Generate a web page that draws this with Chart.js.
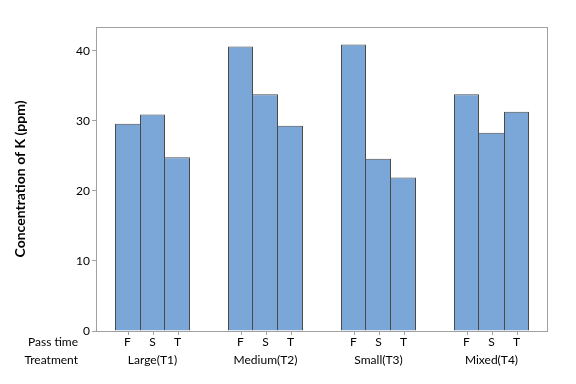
<!DOCTYPE html>
<html>
<head>
<meta charset="utf-8">
<script src="https://cdn.jsdelivr.net/npm/chart.js@4"></script>
<style>
  html, body { margin: 0; padding: 0; background: #fff; }
  #wrap { width: 576px; height: 384px; }
</style>
</head>
<body>
<div id="wrap"><canvas id="myChart"></canvas></div>
<script>
// data
const treatments = ['Large(T1)', 'Medium(T2)', 'Small(T3)', 'Mixed(T4)'];
const passTimes = ['F', 'S', 'T'];
const valuesF = [29.6, 40.6, 40.9, 33.8];
const valuesS = [30.9, 33.8, 24.6, 28.3];
const valuesT = [24.8, 29.3, 21.9, 31.3];
const yTicks = [0, 10, 20, 30, 40];

const series = [valuesF, valuesS, valuesT];

const FONT = 'Lato, "Noto Sans", sans-serif';
const barFill = '#7ba6d8';
const barEdge = '#4a4a4a';
const frameColor = '#a0a0a0';

// neighbouring bars share one edge line: the taller one draws it
function edgeWidths(c) {
    const k = c.datasetIndex, j = c.dataIndex;
    const v = series[k][j];
    const left = (k === 0 || v > series[k - 1][j]) ? 1 : 0;
    const right = (k === series.length - 1 || v >= series[k + 1][j]) ? 1 : 0;
    return { top: 1, right: right, bottom: 0, left: left };
}

// frame, x tick marks and the two rows of labels under the axis
const labelRows = {
    id: 'labelRows',
    afterDraw(chart) {
        const ctx = chart.ctx;
        const area = chart.chartArea;
        ctx.save();
        ctx.strokeStyle = frameColor;
        ctx.lineWidth = 1;
        ctx.strokeRect(area.left + 0.5, area.top + 0.5, area.right - area.left - 1, area.bottom - area.top);

        ctx.fillStyle = '#000';
        ctx.font = '12px ' + FONT;
        ctx.textBaseline = 'middle';
        ctx.textAlign = 'right';
        ctx.fillText('Pass time', 78, 342);
        ctx.fillText('Treatment', 78, 360);

        ctx.textAlign = 'center';
        chart.data.datasets.forEach((ds, i) => {
            chart.getDatasetMeta(i).data.forEach(bar => {
                const x = Math.round(bar.x) + 0.5;
                ctx.beginPath();
                ctx.moveTo(x, area.bottom);
                ctx.lineTo(x, area.bottom + 4);
                ctx.stroke();
                ctx.fillText(passTimes[i], bar.x, 342);
            });
        });
        const xs = chart.scales.x;
        treatments.forEach((t, j) => {
            ctx.fillText(t, xs.getPixelForValue(j), 360);
        });
        ctx.restore();
    }
};

const ctx = document.getElementById('myChart').getContext('2d');
const myChart = new Chart(ctx, {
    type: 'bar',
    data: {
        labels: treatments,
        datasets: series.map((vals, i) => ({
            label: passTimes[i],
            data: vals,
            backgroundColor: barFill,
            borderColor: barEdge,
            borderWidth: edgeWidths,
            borderSkipped: false,
            categoryPercentage: 75 / 113,
            barPercentage: 1.0
        }))
    },
    options: {
        responsive: true,
        maintainAspectRatio: false,
        animation: false,
        layout: { padding: { top: 27, right: 28, bottom: 53, left: 0 } },
        plugins: { legend: { display: false }, tooltip: { enabled: false } },
        scales: {
            x: { display: false, offset: true },
            y: {
                min: 0,
                max: 43.4,
                afterFit: s => { s.width = 96; },
                afterBuildTicks: s => { s.ticks = yTicks.map(v => ({ value: v })); },
                grid: { drawOnChartArea: false, tickLength: 4, color: frameColor },
                border: { display: false },
                ticks: { padding: 2, color: '#000', font: { family: FONT, size: 12 } },
                title: {
                    display: true,
                    text: 'Concentration of K (ppm)',
                    color: '#000',
                    padding: { top: 12, bottom: 0 },
                    font: { family: FONT, size: 14, weight: 'bold' }
                }
            }
        }
    },
    plugins: [labelRows]
});
</script>
</body>
</html>
